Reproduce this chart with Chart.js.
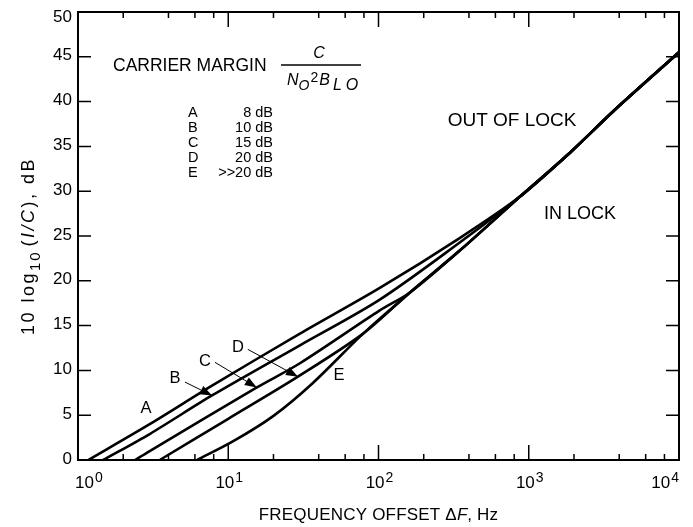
<!DOCTYPE html>
<html><head><meta charset="utf-8">
<script src="https://cdn.jsdelivr.net/npm/chart.js@4.4.1/dist/chart.umd.min.js"></script>
<style>html,body{margin:0;padding:0;background:#fff;overflow:hidden}canvas{display:block}</style>
</head><body>
<canvas id="c" width="693" height="527"></canvas>
<script>
// ---- data (frequency offset in Hz, level in dB) ----
const freqA = [1.17, 3.0, 7.8, 30, 102, 349, 875, 1880, 3640, 10000];
const dbA   = [0, 4.0, 8.3, 14.1, 19.2, 24.8, 29.4, 34.3, 38.9, 45.5];
const freqB = [1.47, 3.0, 7.8, 30, 102, 349, 875, 1880, 3640, 10000];
const dbB   = [0, 2.9, 7.2, 12.8, 17.9, 24.3, 29.4, 34.3, 38.9, 45.5];
const freqC = [2.4, 3.0, 15.5, 30, 102, 162, 349, 875, 1880, 3640, 10000];
const dbC   = [0, 1.0, 8.1, 10.8, 16.7, 18.7, 23.4, 29.4, 34.3, 38.9, 45.5];
const freqD = [3.5, 10, 29.1, 79, 162, 349, 875, 1880, 3640, 10000];
const dbD   = [0, 4.6, 9.3, 14.1, 18.7, 23.4, 29.4, 34.3, 38.9, 45.5];
const freqE = [6.2, 10.8, 19.9, 36.6, 79, 162, 349, 875, 1880, 3640, 10000];
const dbE   = [0, 2.1, 4.9, 8.6, 14.1, 18.7, 23.4, 29.4, 34.3, 38.9, 45.5];

const curveNames   = ['A', 'B', 'C', 'D', 'E'];
const marginLabels = ['8 dB', '10 dB', '15 dB', '20 dB', '>>20 dB'];
const yTickValues  = [0, 5, 10, 15, 20, 25, 30, 35, 40, 45, 50];
const xDecades     = [1, 10, 100, 1000, 10000];
const xDecadeExps  = ['0', '1', '2', '3', '4'];
const xMinorMults  = [2, 4, 6, 8];

// ---- annotation placement (data coordinates) ----
const curveLabelPos = { A: [2.84, 5.7], E: [54.6, 9.4] };
const arrowNotes = [
  { name: 'B', label: [4.42, 9.15], from: [5.15, 8.7], to: [7.8, 7.2] },
  { name: 'C', label: [7.0, 11.05], from: [8.16, 10.9], to: [15.5, 8.1] },
  { name: 'D', label: [11.6, 12.55], from: [13.5, 12.35], to: [29.1, 9.3] }
];
const regionNotes = [
  { text: 'OUT OF LOCK', at: [774, 37.9], size: 19 },
  { text: 'IN LOCK', at: [2193, 27.4], size: 18 }
];

const FONT = '"Liberation Sans", Arial, Helvetica, sans-serif';
const series = [[freqA, dbA], [freqB, dbB], [freqC, dbC], [freqD, dbD], [freqE, dbE]];

function font(size, italic) { return (italic ? 'italic ' : '') + size + 'px ' + FONT; }

// pieces: [{t, size, italic, dy, gap, ls}] ; ls = extra letter spacing
function pieceWidth(ctx, p) {
  ctx.font = font(p.size, p.italic);
  const ls = p.ls || 0;
  return ctx.measureText(p.t).width + ls * p.t.length + (p.gap || 0);
}
function runWidth(ctx, pieces) { return pieces.reduce((w, p) => w + pieceWidth(ctx, p), 0); }
function drawRun(ctx, pieces, x, y) {
  ctx.textAlign = 'left'; ctx.textBaseline = 'alphabetic';
  for (const p of pieces) {
    ctx.font = font(p.size, p.italic);
    const ls = p.ls || 0;
    if (ls) {
      for (const ch of p.t) { ctx.fillText(ch, x, y + (p.dy || 0)); x += ctx.measureText(ch).width + ls; }
      x += (p.gap || 0);
    } else {
      ctx.fillText(p.t, x, y + (p.dy || 0));
      x += ctx.measureText(p.t).width + (p.gap || 0);
    }
  }
}

const decorPlugin = {
  id: 'decor',
  beforeDraw(chart) {
    const c = chart.ctx;
    c.save(); c.fillStyle = '#fff'; c.fillRect(0, 0, chart.width, chart.height); c.restore();
  },
  afterDraw(chart) {
    const c = chart.ctx, xs = chart.scales.x, ys = chart.scales.y, a = chart.chartArea;
    const X = v => xs.getPixelForValue(v), Y = v => ys.getPixelForValue(v);
    c.save();
    c.strokeStyle = '#000'; c.fillStyle = '#000';
    // frame
    c.lineWidth = 2;
    c.strokeRect(a.left, a.top, a.right - a.left, a.bottom - a.top);
    // y ticks (inward, both sides)
    c.lineWidth = 1.5;
    c.beginPath();
    for (const v of yTickValues) {
      if (v === ys.min || v === ys.max) continue;
      const y = Y(v);
      c.moveTo(a.left, y); c.lineTo(a.left + 13, y);
      c.moveTo(a.right, y); c.lineTo(a.right - 13, y);
    }
    // x ticks (inward, bottom and top)
    for (const d of xDecades) {
      const x = X(d);
      if (d !== xs.min && d !== xs.max) {
        c.moveTo(x, a.bottom); c.lineTo(x, a.bottom - 15);
        c.moveTo(x, a.top); c.lineTo(x, a.top + 15);
      }
      if (d < xs.max) for (const m of xMinorMults) {
        const xm = X(d * m);
        c.moveTo(xm, a.bottom); c.lineTo(xm, a.bottom - 6);
        c.moveTo(xm, a.top); c.lineTo(xm, a.top + 6);
      }
    }
    c.stroke();

    // y tick labels
    c.font = font(17); c.textAlign = 'right'; c.textBaseline = 'middle';
    for (const v of yTickValues) c.fillText(String(v), a.left - 6, Y(v) + (v === ys.max ? 5 : -1));

    // x tick labels 10^n
    xDecades.forEach((d, i) => {
      const pieces = [{ t: '10', size: 17, gap: 1 }, { t: xDecadeExps[i], size: 14, dy: -6 }];
      const w = runWidth(c, pieces);
      let x = X(d) - w / 2 + 1;
      if (i === 0) x = X(d) - 3;
      if (i === xDecades.length - 1) x = X(d) - w;
      drawRun(c, pieces, x, a.bottom + 28);
    });

    // x axis title
    {
      const pieces = [{ t: 'FREQUENCY OFFSET \u0394', size: 17, ls: 0.2 }, { t: 'F', size: 17, italic: true }, { t: ', Hz', size: 17, ls: 0.2 }];
      const w = runWidth(c, pieces);
      drawRun(c, pieces, (a.left + a.right) / 2 - w / 2, a.bottom + 60);
    }
    // y axis title (rotated)
    {
      const pieces = [{ t: '10 log', size: 18, ls: 2.5 }, { t: '10', size: 15, dy: 6, ls: 2, gap: 4 },
                      { t: '(', size: 18, ls: 2.5 },
                      { t: 'I/C', size: 18, italic: true, ls: 2.5 }, { t: '), dB', size: 18, ls: 2.5 }];
      const w = runWidth(c, pieces);
      c.save();
      c.translate(a.left - 44, (a.top + a.bottom) / 2 + 10);
      c.rotate(-Math.PI / 2);
      drawRun(c, pieces, -w / 2, 0);
      c.restore();
    }

    // legend block
    {
      const lx = a.left, ty = a.top;
      c.font = font(17.5); c.textAlign = 'left'; c.textBaseline = 'middle';
      c.fillText('CARRIER MARGIN', lx + 35, ty + 54);
      // fraction
      c.font = font(16, true); c.textAlign = 'center';
      c.fillText('C', lx + 241, ty + 42);
      c.lineWidth = 1.4;
      c.beginPath(); c.moveTo(lx + 203, ty + 53); c.lineTo(lx + 283, ty + 53); c.stroke();
      drawRun(c, [{ t: 'N', size: 16, italic: true }, { t: 'O', size: 14, italic: true, dy: 5, gap: 1 },
                  { t: '2', size: 14, dy: -3, gap: 1 }, { t: 'B', size: 16, italic: true, gap: 3 },
                  { t: 'L', size: 16, italic: true, dy: 5, gap: 4 }, { t: 'O', size: 16, italic: true, dy: 5 }],
              lx + 209, ty + 73);
      // list
      c.font = font(14.5); c.textBaseline = 'middle';
      curveNames.forEach((n, i) => {
        const y = ty + 101 + i * 15;
        c.textAlign = 'left'; c.fillText(n, lx + 110, y);
        c.textAlign = 'right'; c.fillText(marginLabels[i], lx + 195, y);
      });
    }

    // curve labels
    c.font = font(16.5); c.textAlign = 'center'; c.textBaseline = 'middle';
    for (const k in curveLabelPos) { const p = curveLabelPos[k]; c.fillText(k, X(p[0]), Y(p[1])); }
    // arrow notes
    for (const n of arrowNotes) {
      c.fillText(n.name, X(n.label[0]), Y(n.label[1]));
      const x0 = X(n.from[0]), y0 = Y(n.from[1]), x1 = X(n.to[0]), y1 = Y(n.to[1]);
      c.lineWidth = 1;
      c.beginPath(); c.moveTo(x0, y0); c.lineTo(x1, y1); c.stroke();
      const ang = Math.atan2(y1 - y0, x1 - x0), L = 12, H = 4.5;
      c.beginPath();
      c.moveTo(x1, y1);
      c.lineTo(x1 - L * Math.cos(ang) + H * Math.sin(ang), y1 - L * Math.sin(ang) - H * Math.cos(ang));
      c.lineTo(x1 - L * Math.cos(ang) - H * Math.sin(ang), y1 - L * Math.sin(ang) + H * Math.cos(ang));
      c.closePath(); c.fill();
    }
    // region notes
    for (const r of regionNotes) { c.font = font(r.size); c.fillText(r.text, X(r.at[0]), Y(r.at[1])); }
    c.restore();
  }
};

new Chart(document.getElementById('c'), {
  type: 'line',
  data: {
    datasets: series.map((s, i) => ({
      label: curveNames[i],
      data: s[0].map((f, j) => ({ x: f, y: s[1][j] })),
      borderColor: '#000', borderWidth: 2.6, pointRadius: 0, fill: false,
      tension: 0.3, clip: 4
    }))
  },
  options: {
    responsive: false, animation: false, devicePixelRatio: 1,
    layout: { padding: { left: 78, right: 14, top: 12, bottom: 67 } },
    plugins: { legend: { display: false }, tooltip: { enabled: false } },
    scales: {
      x: { type: 'logarithmic', min: 1, max: 10000, display: false },
      y: { type: 'linear', min: 0, max: 50, display: false }
    }
  },
  plugins: [decorPlugin]
});
</script>
</body></html>
